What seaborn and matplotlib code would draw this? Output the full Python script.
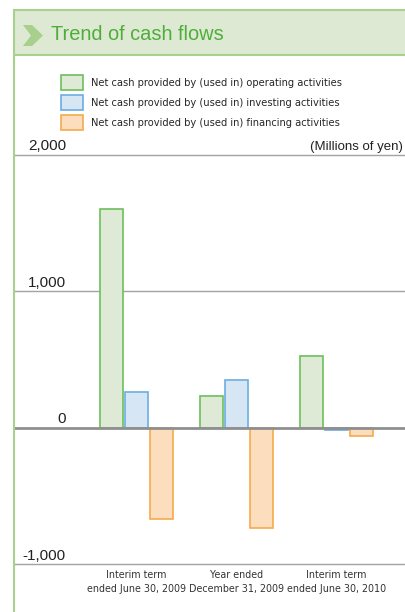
import numpy as np
import pandas as pd
import matplotlib.pyplot as plt
import matplotlib.transforms as mtransforms
from matplotlib.patches import Rectangle, Polygon, Patch
from matplotlib.lines import Line2D
import seaborn as sns

# data (millions of yen)
periods = [
    "Interim term\nended June 30, 2009",
    "Year ended\nDecember 31, 2009",
    "Interim term\nended June 30, 2010",
]
operating = [1600, 230, 523]
investing = [261, 345, -18]
financing = [-667, -736, -59]
activities = [
    "Net cash provided by (used in) operating activities",
    "Net cash provided by (used in) investing activities",
    "Net cash provided by (used in) financing activities",
]
y_ticks = [2000, 1000, 0, -1000]
y_tick_labels = ["2,000", "1,000", "0", "-1,000"]

face_colors = ["#dfead6", "#d6e6f4", "#fcddbd"]
edge_colors = ["#6cbf5a", "#6caee2", "#f5aa4c"]
frame_green = "#a9d18e"

sns.set_style("white")
regular = ["Liberation Sans", "DejaVu Sans"]
plt.rcParams["font.family"] = regular

W, H = 406, 612
fig = plt.figure(figsize=(W / 100, H / 100), dpi=100)

df = pd.DataFrame({
    "period": periods * 3,
    "activity": np.repeat(activities, len(periods)),
    "value": operating + investing + financing,
})

ax = fig.add_axes([14 / W, (H - 564) / H, (W - 14) / W, (564 - 60) / H])
sns.barplot(
    data=df, x="period", y="value", hue="activity", hue_order=activities,
    palette=face_colors, saturation=1, width=0.75, gap=0.1,
    errorbar=None, legend=False, linewidth=1.2, ax=ax, zorder=3
)
for cont, ec in zip(ax.containers, edge_colors):
    for bar in cont:
        bar.set_edgecolor(ec)

ax.set_xlim(-1.225, 2.695)
ax.set_ylim(-1000, 2694)
for s in ax.spines.values():
    s.set_visible(False)
ax.set_yticks([])
ax.set_xlabel("")
ax.set_ylabel("")

# horizontal rules
for v in y_ticks:
    if v == 0:
        ax.axhline(v, color="#8f8f8f", lw=2, zorder=4, clip_on=False)
    else:
        ax.axhline(v, color="#a3a3a3", lw=1, zorder=1, clip_on=False)

lab_trans = mtransforms.offset_copy(
    mtransforms.blended_transform_factory(fig.transFigure, ax.transData),
    fig=fig, y=4.5, units="dots")
for v, lab in zip(y_ticks, y_tick_labels):
    ax.text(66 / W, v, lab, transform=lab_trans, ha="right", va="baseline",
            fontsize=11, color="#222222")
ax.text(403 / W, 2000, "(Millions of yen)", transform=lab_trans, ha="right",
        va="baseline", fontsize=9.5, color="#222222")

ax.tick_params(axis="x", length=0, pad=4.5)
ax.set_xticks(range(len(periods)))
ax.set_xticklabels(periods, fontsize=7.7, family="DejaVu Sans",
                   fontstretch="condensed", color="#333333", linespacing=1.45)

# legend
handles = [Patch(facecolor=fc, edgecolor=ec, lw=1.2, label=lab)
           for fc, ec, lab in zip(face_colors, edge_colors, activities)]
ax.legend(handles=handles, loc="upper left", bbox_to_anchor=(61 / W, 1 - 75 / H),
          bbox_transform=fig.transFigure, frameon=False, borderpad=0,
          borderaxespad=0, handlelength=2.0, handleheight=1.75,
          handletextpad=0.76, labelspacing=0.45,
          prop={"family": "DejaVu Sans", "stretch": "condensed", "size": 7.9})

# header band and frame
fig.add_artist(Rectangle((14 / W, 1 - 55 / H), (W - 14) / W + 0.01, 45 / H,
                         transform=fig.transFigure, facecolor="#dde9d3",
                         edgecolor=frame_green, lw=1.5))
fig.add_artist(Line2D([14 / W, 14 / W], [0, 1 - 55 / H], transform=fig.transFigure,
                      color=frame_green, lw=1.5))
chev = [(23, 25), (32, 25), (43, 35.5), (32, 46), (23, 46), (31, 35.5)]
fig.add_artist(Polygon([(x / W, 1 - y / H) for x, y in chev], closed=True,
                       transform=fig.transFigure, facecolor="#a8cf8c",
                       edgecolor="none"))
fig.text(51 / W, 1 - 39.5 / H, "Trend of cash flows", fontsize=14.4,
         color="#4fae3a", va="baseline", ha="left")

fig.savefig("out.png", dpi=100)
